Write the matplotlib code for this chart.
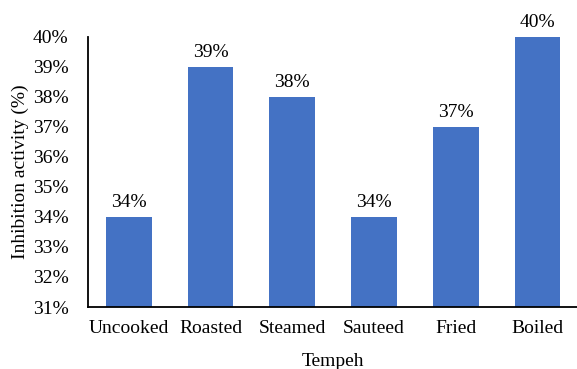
import matplotlib.pyplot as plt
from matplotlib.ticker import FuncFormatter

categories = ['Uncooked', 'Roasted', 'Steamed', 'Sauteed', 'Fried', 'Boiled']
inhibition = [34, 39, 38, 34, 37, 40]
yticks = list(range(31, 41))

plt.rcParams['font.family'] = ['Liberation Serif', 'DejaVu Serif']

fig = plt.figure(figsize=(5.77, 3.69), dpi=100)
ax = fig.add_axes([0.1525, 0.168, 0.85, 0.732])

x = range(len(categories))
bars = ax.bar(x, inhibition, width=0.56, color='#4472C4', zorder=2)
for b, v in zip(bars, inhibition):
    ax.annotate(f'{v}%', (b.get_x() + b.get_width() / 2, v), xytext=(0, 4),
                textcoords='offset points', ha='center', va='bottom', fontsize=14)

ax.set_xlim(-0.5, len(categories) - 0.5)
ax.set_ylim(31, 40)
ax.set_yticks(yticks)
ax.yaxis.set_major_formatter(FuncFormatter(lambda v, _: f'{v:.0f}%'))
ax.set_xticks(list(x))
ax.set_xticklabels(categories)
ax.tick_params(axis='both', length=0, labelsize=14)
ax.tick_params(axis='y', pad=14)
ax.tick_params(axis='x', pad=9)

for s in ('top', 'right'):
    ax.spines[s].set_visible(False)
for s in ('left', 'bottom'):
    ax.spines[s].set_linewidth(1.3)

ax.set_ylabel('Inhibition activity (%)', fontsize=14, labelpad=3)
ax.set_xlabel('Tempeh', fontsize=14, labelpad=12)

fig.savefig('out.png', dpi=100)
